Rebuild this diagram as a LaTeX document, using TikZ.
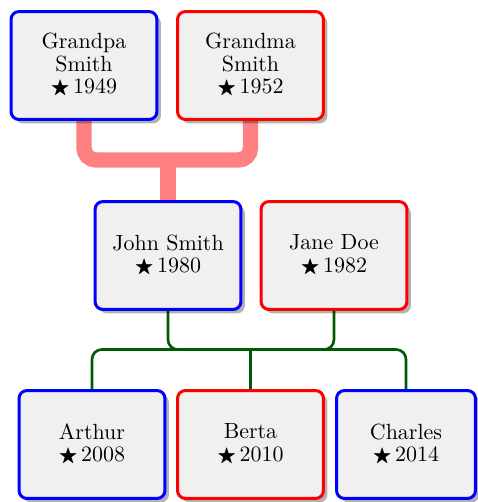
\documentclass[tikz,border=0pt]{standalone}
\usepackage{amssymb}
\usetikzlibrary{shadows,backgrounds}

\definecolor{famgreen}{RGB}{0,90,0}
\newcommand{\born}{\scalebox{0.9}{$\bigstar$}\,}

\begin{document}
\begin{tikzpicture}[x=0.455pt,y=-0.455pt,
  person/.style={draw,fill=black!6,line width=1.37pt,rounded corners=3.6pt,
    minimum width=66.4pt,minimum height=49.1pt,align=center,inner sep=2pt,
    font=\fontsize{10}{10.2}\selectfont,
    drop shadow={shadow xshift=1.8pt,shadow yshift=-1.8pt,opacity=0.3,fill=black}},
  male/.style={person,draw=blue},
  female/.style={person,draw=red}]

\useasboundingbox (0,0) rectangle (478,502);

% grandparents
\node[male] (grandpa) at (84,65.5) {Grandpa\\Smith\\\born1949};
\node[female] (grandma) at (250.5,65.5) {Grandma\\Smith\\\born1952};

% parents
\node[male] (john) at (168,255.5) {John Smith\\\born1980};
\node[female] (jane) at (334,255.5) {Jane Doe\\\born1982};

% children
\node[male] (arthur) at (92,444.5) {Arthur\\\born2008};
\node[female] (berta) at (250.5,444.5) {Berta\\\born2010};
\node[male,minimum width=63.2pt] (charles) at (406,444.5) {Charles\\\born2014};

\coordinate (pfam) at (168,160);
\coordinate (cfam) at (250.5,349.5);

\begin{scope}[on background layer]
\draw[red!50,line width=7pt,rounded corners=5.5pt] (grandpa.south) -- (grandpa.south |- pfam) -- (grandma.south |- pfam) -- (grandma.south);
\draw[red!50,line width=7pt] (pfam) -- (john.north);

\draw[famgreen,line width=1.2pt,rounded corners=4.5pt] (john.south) -- (john.south |- cfam) -- (jane.south |- cfam) -- (jane.south);
\draw[famgreen,line width=1.2pt,rounded corners=4.5pt] (arthur.north) -- (arthur.north |- cfam) -- (charles.north |- cfam) -- (charles.north);
\draw[famgreen,line width=1.2pt] (cfam) -- (berta.north);
\end{scope}
\end{tikzpicture}
\end{document}
